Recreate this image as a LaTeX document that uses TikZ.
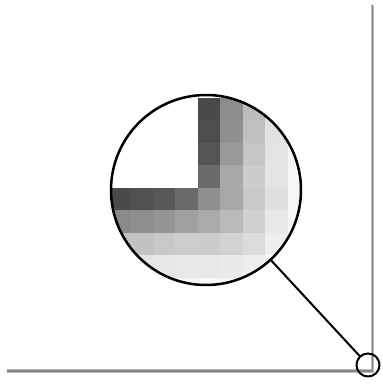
\documentclass[tikz,border=0pt]{standalone}
\usetikzlibrary{positioning}

\begin{document}
\begin{tikzpicture}[
    x=1pt, y=-1pt,
    edgeglow/.style={line width=3.5pt, black!28},
    edgecore/.style={line width=1.5pt, black!48},
    lens/.style={draw, circle, line width=2.5pt, minimum size=190pt, inner sep=0pt},
    spot/.style={draw, circle, line width=2pt, minimum size=23pt, inner sep=0pt},
    link/.style={line width=2pt}
]
\useasboundingbox (0,0) rectangle (383,384);
% the two edges meeting in the corner
\coordinate (left) at (7,371);
\coordinate (corner) at (372.5,371);
\coordinate (top) at (372.5,5);
\draw[edgeglow] (left) -- (corner) -- (top);
\draw[edgecore] (left) -- (corner) -- (top);
% magnified pixels round the corner
\begin{scope}
\clip (206,190) circle (95pt);
\foreach \row [count=\j from -4] in {
    {255,255,255,255,74,140,189,224,245},
    {255,255,255,255,77,144,192,226,245},
    {255,255,255,255,85,153,197,228,246},
    {255,255,255,255,106,168,204,229,246},
    {74,80,88,106,143,168,200,224,245},
    {138,142,149,160,170,186,208,232,247},
    {192,194,200,205,204,210,220,238,248},
    {226,228,230,232,232,234,238,245,250},
    {245,245,246,246,247,248,249,250,252}} {
  \foreach \v [count=\i from -4] in \row {
    \pgfmathsetmacro\w{\v/2.55}
    \fill[white!\w!black] (197.5+22.5*\i,187.5+22.5*\j) rectangle ++(22.5,22.5);
  }
}
\end{scope}
\node[lens] (lens) at (206,190) {};
\node[spot] (spot) at (368,365) {};
\draw[link] (lens) -- (spot);
\end{tikzpicture}
\end{document}
